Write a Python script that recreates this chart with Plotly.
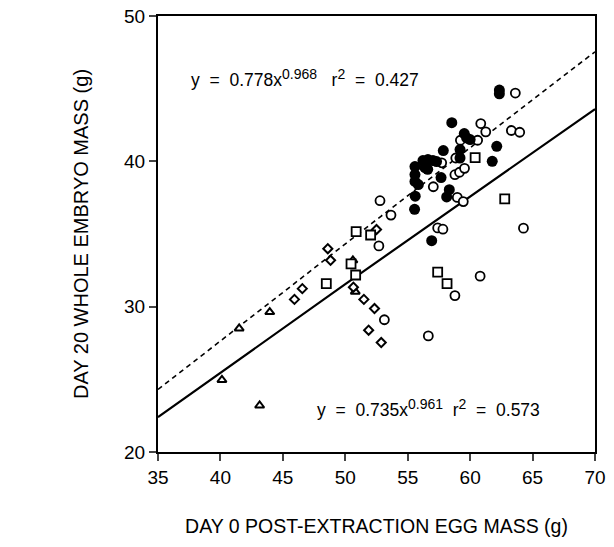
import numpy as np
import plotly.graph_objects as go

# ---- data ----
filled_x = [62.34, 62.34, 58.53, 59.53, 59.72, 60.0, 59.19, 59.19, 57.85, 62.13, 61.77,
            56.62, 56.22, 57.02, 57.31, 56.38, 55.58, 55.58, 56.6, 55.58, 55.85, 57.67,
            58.33, 58.12, 55.6, 55.55, 56.92]
filled_y = [44.9, 44.65, 42.66, 41.91, 41.61, 41.5, 40.81, 40.23, 40.74, 41.03, 40.0,
            40.12, 40.05, 40.05, 39.98, 39.57, 39.64, 39.09, 39.45, 38.62, 38.40, 38.88,
            38.05, 37.55, 37.6, 36.7, 34.54]

open_x = [63.62, 60.85, 61.25, 63.3, 63.97, 59.22, 60.6, 58.85, 57.72, 58.78, 59.15,
          59.55, 57.05, 58.97, 59.45, 52.78, 53.66, 57.4, 57.82, 64.27, 52.69, 60.8,
          58.78, 53.13, 56.65]
open_y = [44.7, 42.6, 42.03, 42.12, 42.0, 41.45, 41.45, 40.23, 39.9, 39.08, 39.25,
          39.52, 38.25, 37.52, 37.23, 37.29, 36.30, 35.42, 35.33, 35.4, 34.18, 32.1,
          30.76, 29.10, 27.99]

square_x = [48.48, 50.87, 52.03, 50.46, 50.83, 57.4, 58.15, 60.4, 62.77]
square_y = [31.58, 35.17, 34.93, 32.95, 32.18, 32.38, 31.58, 40.26, 37.41]

diamond_x = [48.60, 48.82, 46.56, 45.93, 52.50, 50.65, 51.49, 52.34, 51.87, 52.88]
diamond_y = [33.99, 33.19, 31.24, 30.50, 35.31, 31.34, 30.50, 29.87, 28.38, 27.53]

triangle_x = [40.12, 41.50, 43.14, 43.95, 50.61, 50.80]
triangle_y = [24.96, 28.50, 23.20, 29.63, 33.19, 31.03]

# fitted power curves y = a * x^b (coefficients as printed on the chart)
fit_dashed = (0.778, 0.968)
fit_solid = (0.735, 0.961)
x_range = [35, 70]
y_range = [20, 50]
x_ticks = [35, 40, 45, 50, 55, 60, 65, 70]
y_ticks = [20, 30, 40, 50]

xs = np.linspace(x_range[0], x_range[1], 50)

fig = go.Figure()

fig.add_trace(go.Scatter(x=xs, y=fit_dashed[0] * xs ** fit_dashed[1], mode="lines",
                         line=dict(color="black", width=1.6, dash="5px,4px"),
                         hoverinfo="skip", showlegend=False))
fig.add_trace(go.Scatter(x=xs, y=fit_solid[0] * xs ** fit_solid[1], mode="lines",
                         line=dict(color="black", width=2.2),
                         hoverinfo="skip", showlegend=False))

def add_pts(x, y, symbol, size, fill, lw):
    fig.add_trace(go.Scatter(x=x, y=y, mode="markers", showlegend=False,
                             marker=dict(symbol=symbol, size=size, color=fill,
                                         line=dict(color="black", width=lw))))

add_pts(triangle_x, triangle_y, "triangle-up", 8, "white", 2)
add_pts(diamond_x, diamond_y, "diamond", 7, "white", 2)
add_pts(square_x, square_y, "square", 9, "white", 1.8)
add_pts(open_x, open_y, "circle", 9, "white", 1.8)
add_pts(filled_x, filled_y, "circle", 11, "black", 0)

font = "Liberation Sans, Arial, Helvetica, sans-serif"
sup = "<sup><span style='font-size:14px'>{}</span></sup>"

fig.update_layout(
    width=614, height=547,
    margin=dict(l=158, r=19, t=16, b=95),
    paper_bgcolor="white", plot_bgcolor="white",
    font=dict(family=font, color="black", size=15),
    xaxis=dict(range=x_range, tickvals=x_ticks, ticks="outside", ticklen=7, tickwidth=2,
               showline=True, linecolor="black", linewidth=2, mirror=True,
               showgrid=False, zeroline=False, tickfont=dict(size=19), automargin=False,
               title=dict(text="DAY 0 POST-EXTRACTION EGG MASS (g)", font=dict(size=19.5),
                          standoff=33)),
    yaxis=dict(range=y_range, tickvals=y_ticks, ticks="outside", ticklen=7, tickwidth=2,
               showline=True, linecolor="black", linewidth=2, mirror=True,
               showgrid=False, zeroline=False, tickfont=dict(size=19), automargin=False,
               title=dict(text="DAY 20 WHOLE EMBRYO MASS (g)", font=dict(size=20),
                          standoff=30)),
    annotations=[
        dict(x=37.5, y=45.75, xref="x", yref="y", xanchor="left", yanchor="middle",
             showarrow=False, font=dict(size=17.5),
             text="y  =  0.778x" + sup.format("0.968") + "   r" + sup.format("2") + "  =  0.427"),
        dict(x=47.6, y=23.05, xref="x", yref="y", xanchor="left", yanchor="middle",
             showarrow=False, font=dict(size=17.5),
             text="y  =  0.735x" + sup.format("0.961") + "  r" + sup.format("2") + "  =  0.573"),
    ],
)

fig.write_html("out.html", config={"displayModeBar": False},
               post_script="document.body.style.margin='0px';")
